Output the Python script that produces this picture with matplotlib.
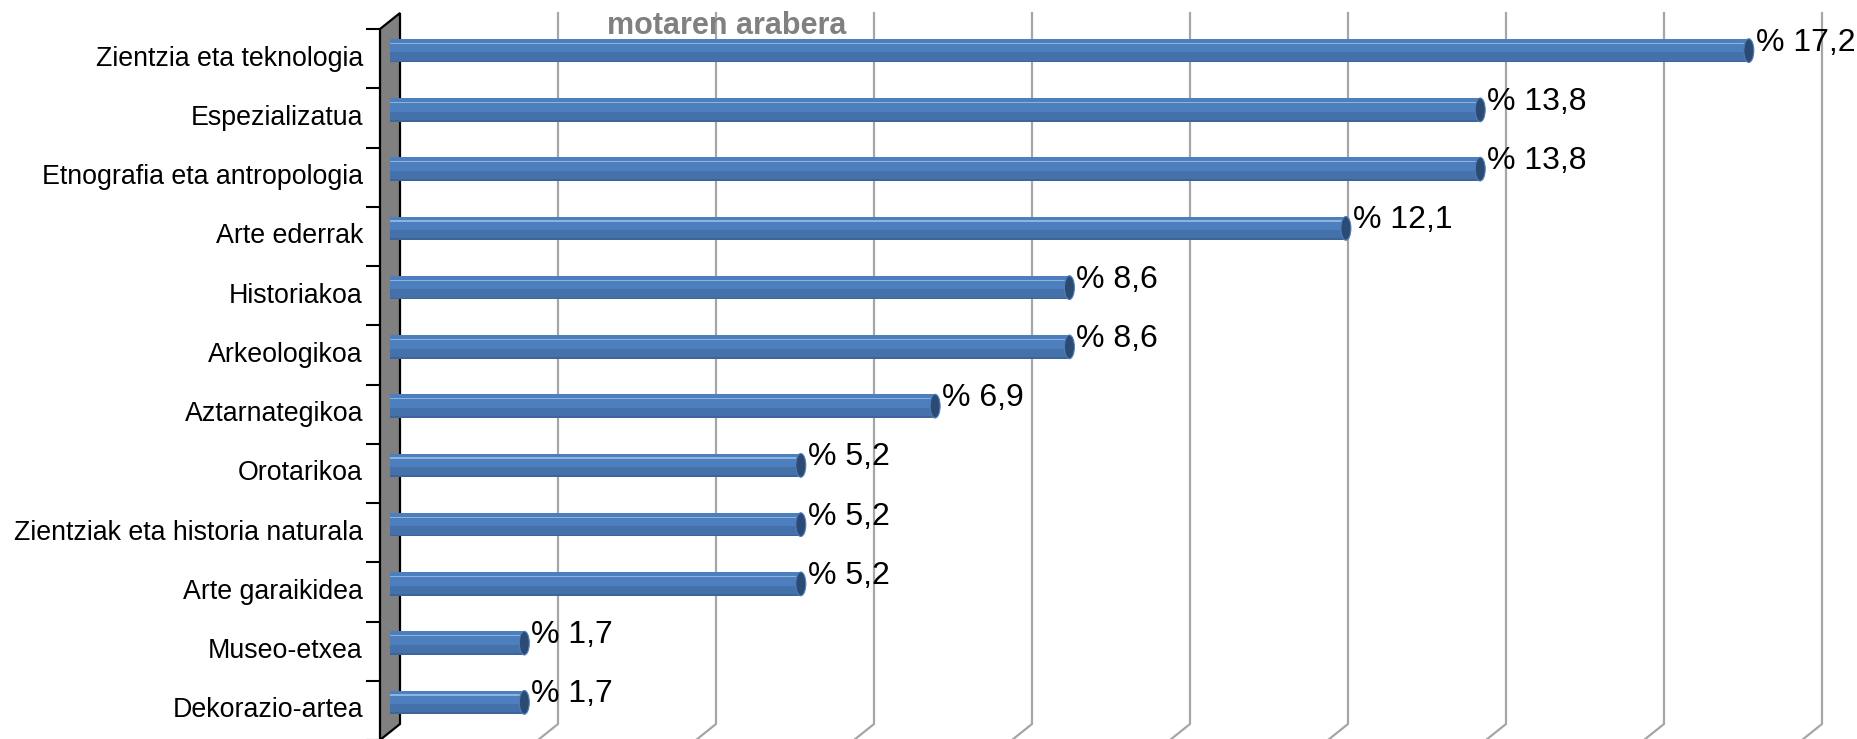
import numpy as np
import matplotlib
matplotlib.use("Agg")
import matplotlib.pyplot as plt
from matplotlib.patches import Ellipse, Polygon
from matplotlib.transforms import IdentityTransform, offset_copy

categories = ["Zientzia eta teknologia", "Espezializatua", "Etnografia eta antropologia",
              "Arte ederrak", "Historiakoa", "Arkeologikoa", "Aztarnategikoa", "Orotarikoa",
              "Zientziak eta historia naturala", "Arte garaikidea", "Museo-etxea",
              "Dekorazio-artea"]
values = [17.2, 13.8, 13.8, 12.1, 8.6, 8.6, 6.9, 5.2, 5.2, 5.2, 1.7, 1.7]
title = "motaren arabera"

plt.rcParams['font.family'] = ['Liberation Sans', 'DejaVu Sans']

W, H = 1858, 739
fig = plt.figure(figsize=(W / 100, H / 100), dpi=100)
# axes = middle depth plane of the fake 3d box
ax = fig.add_axes([390 / W, 7 / H, 1422 / W, 711 / H])
ax.set_xlim(0, 18)
ax.set_ylim(len(categories) - 0.5, -0.5)
ax.axis('off')

DX, DY = 10, 8  # pixel shift from middle plane to back plane


def proj(x, y, d):
    # d = +1 back, 0 middle, -1 front
    px, py = ax.transData.transform((x, y))
    return px + d * DX, py + d * DY


ident = IdentityTransform()
ytop, ybot = -0.5, len(categories) - 0.5

# gridlines on back wall + floor
for g in np.arange(2, 19, 2):
    p1 = proj(g, ytop, 1)
    p2 = proj(g, ybot, 1)
    p3 = proj(g, ybot, -1)
    ax.plot([p1[0], p2[0], p3[0]], [p1[1], p2[1], p3[1]], color='#a6a6a6', lw=1.6,
            transform=ident, clip_on=False, zorder=1)

# side wall
pts = [proj(0, ytop, -1), proj(0, ytop, 1), proj(0, ybot, 1), proj(0, ybot, -1)]
ax.add_patch(Polygon(pts, closed=True, facecolor='#808080', edgecolor='black', lw=1.6,
                     transform=ident, clip_on=False, zorder=2))

# tick marks on the front edge
front = offset_copy(ax.transData, fig=fig, x=-DX - 6.5, y=-DY, units='dots')
ax.plot(np.zeros(len(categories) + 1), np.arange(len(categories) + 1) - 0.5, ls='none',
        marker='_', markersize=9.4, markeredgewidth=1.5, color='black',
        transform=front, clip_on=False, zorder=3)

# bars (cylinders)
y = np.arange(len(categories))
bh = 0.40
capw = 10 / 79
main = '#4d7fbe'
ax.barh(y, values, height=bh, color=main, zorder=4)
ax.barh(y + bh * 0.25, values, height=bh * 0.36, color='#4571aa', zorder=5)
ax.barh(y + bh * 0.46, values, height=bh * 0.08, color='#3d659b', zorder=5)
ax.barh(y - bh * 0.31, values, height=bh * 0.05, color='#8fb3df', zorder=5)
for yi, v in zip(y, values):
    ax.add_patch(Ellipse((0, yi), capw, bh, facecolor=main, zorder=4))
    ax.add_patch(Ellipse((v, yi), capw, bh, facecolor='#2c4b74', edgecolor=main,
                         lw=0.8, zorder=6))

# value labels
lab_tr = offset_copy(ax.transData, fig=fig, x=7, y=8, units='dots')
for yi, v in zip(y, values):
    ax.text(v, yi, "% " + f"{v:.1f}".replace('.', ','), transform=lab_tr,
            ha='left', va='center', fontsize=23, color='black', zorder=7)

# category labels
cat_tr = offset_copy(ax.transData, fig=fig, x=-27, y=-DY, units='dots')
for yi, c in zip(y, categories):
    ax.text(0, yi, c, transform=cat_tr, ha='right', va='center', fontsize=19.3,
            color='black')

fig.text(727 / W, 1 - 34 / H, title, ha='center', va='baseline', fontsize=22,
         fontweight='bold', color='#808080')

fig.savefig('out.png', dpi=100)
